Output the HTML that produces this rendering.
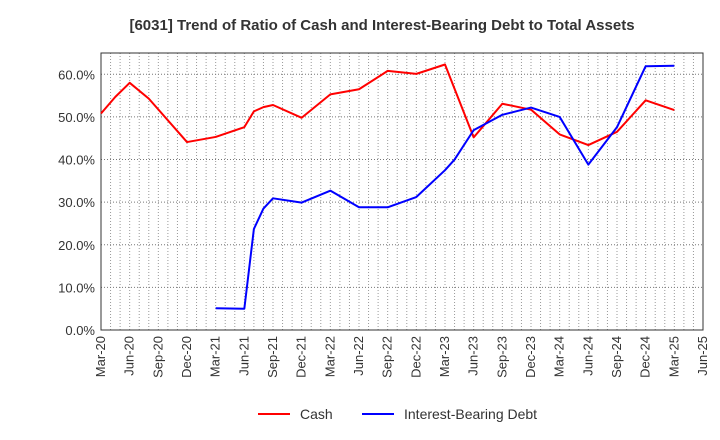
<!DOCTYPE html>
<html><head><meta charset="utf-8"><style>
body{margin:0;background:#fff;}
svg{display:block;font-family:"Liberation Sans",sans-serif;}
</style></head><body>
<svg id="chart" width="720" height="440">
<text x="382" y="30" text-anchor="middle" font-size="15" font-weight="bold" fill="#333">[6031]  Trend of Ratio of Cash and Interest-Bearing Debt to Total Assets</text>
<g id="grid"></g><g id="axes"></g><g id="series"></g>
<g>
<line x1="258" y1="414" x2="290" y2="414" stroke="#f00" stroke-width="2"/>
<text x="300" y="419" font-size="14" fill="#333">Cash</text>
<line x1="362" y1="414" x2="394" y2="414" stroke="#00f" stroke-width="2"/>
<text x="404" y="419" font-size="14" fill="#333">Interest-Bearing Debt</text>
</g>
</svg>
<script>
const xTickLabels=["Mar-20","Jun-20","Sep-20","Dec-20","Mar-21","Jun-21","Sep-21","Dec-21","Mar-22","Jun-22","Sep-22","Dec-22","Mar-23","Jun-23","Sep-23","Dec-23","Mar-24","Jun-24","Sep-24","Dec-24","Mar-25","Jun-25"];
const yTicks=[0,10,20,30,40,50,60];
const cashMonths=[0,1.5,3,5,9,12,15,16,17,18,21,24,27,30,33,36,39,42,45,48,51,54,57,60];
const cashValues=[50.8,54.7,58.0,54.3,44.1,45.3,47.6,51.3,52.3,52.8,49.8,55.3,56.5,60.8,60.1,62.3,45.2,53.1,51.7,45.9,43.4,46.5,53.9,51.6];
const debtMonths=[12,15,16,17,18,21,24,27,30,33,36,37,39,42,45,48,51,54,57,60];
const debtValues=[5.1,5.0,23.7,28.5,30.9,29.9,32.7,28.8,28.8,31.2,37.5,40.0,46.9,50.5,52.2,50.0,38.8,47.6,61.9,62.0];
const L=101,R=703,T=53,B=330,maxM=63,maxY=65;
const xs=m=>L+(R-L)*m/maxM, ys=v=>B-(B-T)*v/maxY;
const NS="http://www.w3.org/2000/svg";
function mk(t,a,p){const e=document.createElementNS(NS,t);for(const k in a)e.setAttribute(k,a[k]);p.appendChild(e);return e;}
const grid=document.getElementById('grid'),axes=document.getElementById('axes'),series=document.getElementById('series');
for(let m=1;m<maxM;m++){const l=mk('line',{x1:xs(m),x2:xs(m),y1:T,y2:B,stroke:'#999','stroke-width':1,'stroke-dasharray':'1,2'},grid);

}
yTicks.forEach(v=>{const l=mk('line',{x1:L,x2:R,y1:ys(v),y2:ys(v),stroke:'#777','stroke-width':1,'stroke-dasharray':'1,2'},grid);


const t=mk('text',{x:L-6,y:ys(v)+5,'text-anchor':'end','font-size':13,fill:'#333'},axes);
t.textContent=v.toFixed(1)+'%';

});
const box=mk('rect',{x:L,y:T,width:R-L,height:B-T,fill:'none',stroke:'#333','stroke-width':1},axes);


xTickLabels.forEach((s,i)=>{const x=xs(i*3);const t=mk('text',{x:x+4,y:B+6,'text-anchor':'end','font-size':13,fill:'#333',transform:`rotate(-90 ${x+4} ${B+6})`},axes);
t.textContent=s;

});
function line(ms,vs,c,n){const p=mk('polyline',{points:ms.map((m,i)=>xs(m)+','+ys(vs[i])).join(' '),fill:'none',stroke:c,'stroke-width':2,'stroke-linejoin':'round'},series);

}
line(cashMonths,cashValues,'#f00','cash-line');
line(debtMonths,debtValues,'#00f','debt-line');
</script>
</body></html>
